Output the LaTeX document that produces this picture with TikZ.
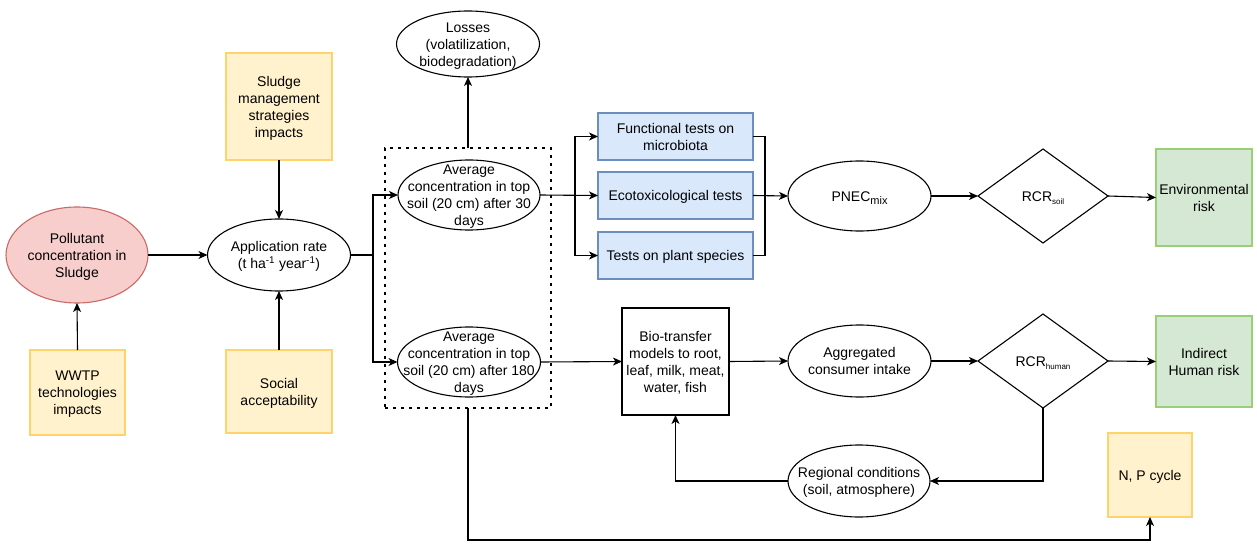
\documentclass[tikz,border=0pt]{standalone}
\usepackage{fontspec}
\setmainfont{Liberation Sans}
\usetikzlibrary{shapes.geometric,arrows.meta}
\definecolor{pinkf}{HTML}{F8CECC}
\definecolor{pinkd}{HTML}{C96B67}
\definecolor{yelf}{HTML}{FFF2CC}
\definecolor{yeld}{HTML}{FFD36B}
\definecolor{bluf}{HTML}{DAE8FC}
\definecolor{blud}{HTML}{6C8EBF}
\definecolor{grnf}{HTML}{D5E8D4}
\definecolor{grnd}{HTML}{97D077}
\newcommand{\zt}[1]{\makebox[0pt]{\raisebox{-5.5pt}[0pt][0pt]{\begin{tabular}{@{}c@{}}#1\end{tabular}}}}
\tikzset{
  base/.style={inner sep=0pt, outer sep=0pt, line width=1.1pt, font=\fontsize{14}{17}\selectfont},
  ell/.style={base, draw, ellipse, fill=white},
  ybox/.style={base, draw=yeld, fill=yelf, rectangle},
  bbox/.style={base, draw=blud, fill=bluf, rectangle},
  gbox/.style={base, draw=grnd, fill=grnf, rectangle},
  wbox/.style={base, draw, fill=white, rectangle},
  dia/.style={base, draw, diamond, fill=white},
  arr/.style={line width=1.1pt, -{Stealth[length=9pt,width=8pt,inset=2.5pt]}},
  ln/.style={line width=1.1pt},
  grpbox/.style={draw, line width=2.7pt, dash pattern=on 2.7pt off 5.3pt, inner sep=0pt, outer sep=0pt, rectangle}
}
\begin{document}
\begin{tikzpicture}[x=1pt,y=-1pt]
\path[use as bounding box, fill=white] (0,0) rectangle (1257,545);

\node[grpbox, minimum width=166pt, minimum height=260pt] (grp) at (468,278) {};

\node[base, draw=pinkd, fill=pinkf, ellipse, minimum width=142pt, minimum height=96pt] (poll) at (77,255) {\zt{Pollutant\\concentration in\\Sludge}};
\node[ybox, minimum width=95pt, minimum height=85pt] (wwtp) at (77.5,392.5) {\zt{WWTP\\technologies\\impacts}};
\node[ybox, minimum width=106pt, minimum height=107pt] (sludge) at (279,106.5) {\zt{Sludge\\management\\strategies\\impacts}};
\node[ell, minimum width=143pt, minimum height=72pt] (app) at (279,255) {\zt{Application rate\\(t ha\textsuperscript{-1} year\textsuperscript{-1})}};
\node[ybox, minimum width=106pt, minimum height=83pt] (social) at (279,391.5) {\zt{Social\\acceptability}};

\node[ell, minimum width=142pt, minimum height=70pt] (e30) at (469,195) {\zt{Average\\concentration in top\\soil (20 cm) after 30\\days}};
\node[ell, minimum width=143pt, minimum height=70pt] (e180) at (469,362) {\zt{Average\\concentration in top\\soil (20 cm) after 180\\days}};
\node[ell, minimum width=143pt, minimum height=66pt] (loss) at (468,44) {\zt{Losses\\(volatilization,\\biodegradation)}};

\node[bbox, minimum width=155pt, minimum height=47pt] (func) at (675.5,136.5) {\zt{Functional tests on\\microbiota}};
\node[bbox, minimum width=155pt, minimum height=47pt] (eco) at (675.5,195.5) {\zt{Ecotoxicological tests}};
\node[bbox, minimum width=155pt, minimum height=47pt] (plant) at (675.5,255.5) {\zt{Tests on plant species}};

\node[ell, minimum width=143pt, minimum height=70pt] (pnec) at (859.5,196) {\zt{PNEC\raisebox{-0.45ex}{\fontsize{11}{11}\selectfont mix}}};
\node[dia, minimum width=130pt, minimum height=94pt] (rcrs) at (1043,196) {\zt{RCR\raisebox{-0.45ex}{\fontsize{8}{8}\selectfont soil}}};
\node[gbox, minimum width=96pt, minimum height=97pt] (env) at (1204,197.5) {\zt{Environmental\\risk}};

\node[wbox, minimum width=107pt, minimum height=107pt] (bio) at (675.5,361.5) {\zt{Bio-transfer\\models to root,\\leaf, milk, meat,\\water, fish}};
\node[ell, minimum width=143pt, minimum height=72pt] (agg) at (859.5,361) {\zt{Aggregated\\consumer intake}};
\node[dia, minimum width=130pt, minimum height=94pt] (rcrh) at (1043,361) {\zt{RCR\raisebox{-0.45ex}{\fontsize{8}{8}\selectfont human}}};
\node[gbox, minimum width=96pt, minimum height=91pt] (ind) at (1204,361.5) {\zt{Indirect\\Human risk}};
\node[ell, minimum width=142pt, minimum height=72pt] (reg) at (859,481) {\zt{Regional conditions\\(soil, atmosphere)}};
\node[ybox, minimum width=84pt, minimum height=84pt] (np) at (1150,475) {\zt{N, P cycle}};

\coordinate (br1) at (373,255);
\coordinate (br2) at (575,195);
\coordinate (br3) at (765,195);
\coordinate (b2) at (1150,540);

% left part
\draw[arr] (wwtp.north) -- (poll.south);
\draw[arr] (poll.east) -- (app.west);
\draw[arr] (sludge.south) -- (app.north);
\draw[arr] (social.north) -- (app.south);
\draw[ln] (app.east) -- (br1);
\draw[arr] (br1) |- (e30.west);
\draw[arr] (br1) |- (e180.west);
\draw[arr] (grp.north) -- (loss.south);

% tests
\draw[arr] (e30.east) -- (eco.west);
\draw[arr] (br2) |- (func.west);
\draw[arr] (br2) |- (plant.west);
\draw[ln] (func.east) -| (br3);
\draw[ln] (plant.east) -| (br3);
\draw[arr] (eco.east) -- (pnec.west);
\draw[arr] (pnec.east) -- (rcrs.west);
\draw[arr] (rcrs.east) -- (env.west);

% human branch
\draw[arr] (e180.east) -- (bio.west);
\draw[arr] (bio.east) -- (agg.west);
\draw[arr] (agg.east) -- (rcrh.west);
\draw[arr] (rcrh.east) -- (ind.west);
\draw[arr] (rcrh.south) |- (reg.east);
\draw[arr] (reg.west) -| (bio.south);
\draw[arr] (grp.south) |- (b2) -- (np.south);
\end{tikzpicture}
\end{document}
